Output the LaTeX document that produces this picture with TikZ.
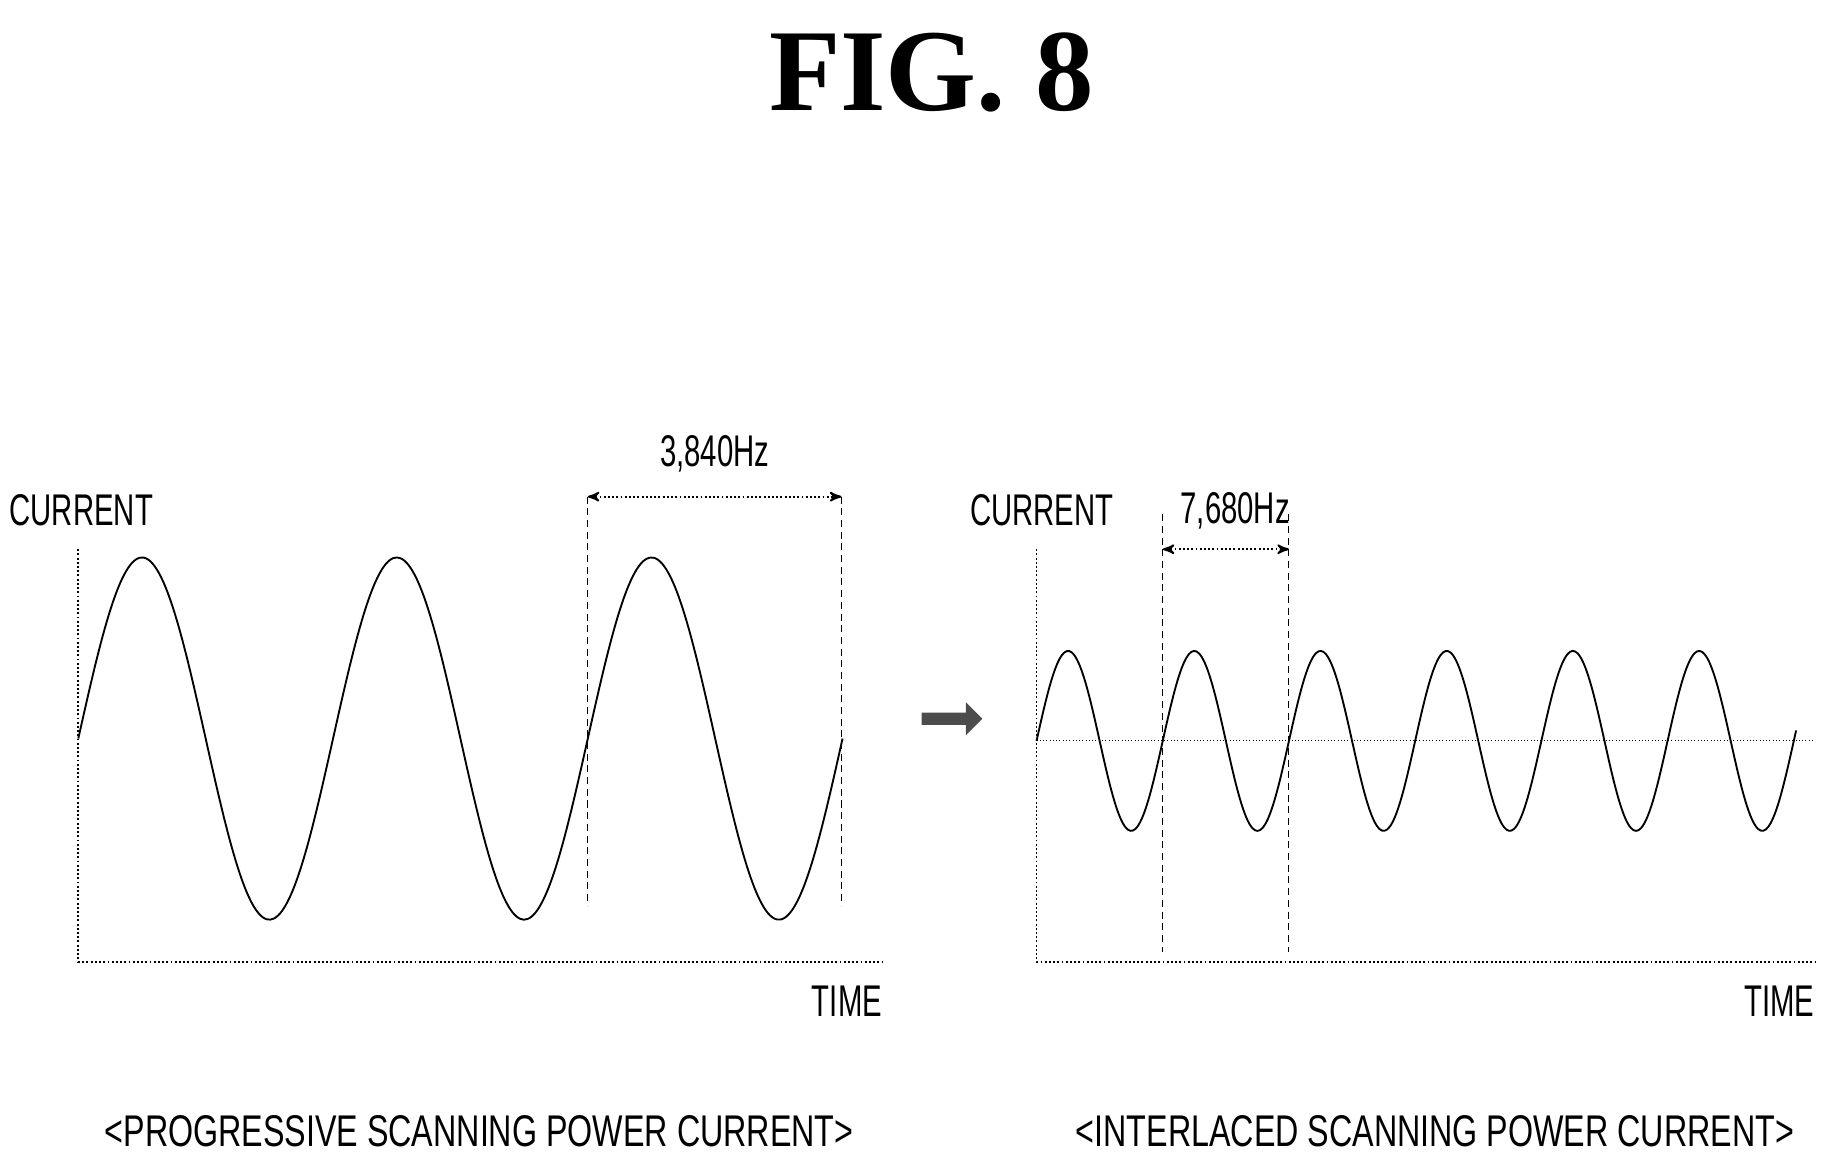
\documentclass[tikz,border=0pt]{standalone}
\usepackage{fontspec}
\setmainfont{Liberation Serif}
\newfontfamily\lblfont{Liberation Sans}
\usetikzlibrary{arrows,positioning,shapes.arrows}

\begin{document}
\begin{tikzpicture}[x=0.5pt,y=-0.5pt,>=stealth',
    lbl/.style={font=\lblfont\fontsize{19}{19}\selectfont,inner sep=0pt,xscale=0.66},
    axis/.style={densely dotted,thick},
    guide/.style={dashed,dash pattern=on 3pt off 2pt},
    wave/.style={thick,smooth}]

  \useasboundingbox (0,0) rectangle (1560,992);

  \node (title) at (797,62) {\fontsize{50}{50}\selectfont\bfseries FIG.\ 8};

  % progressive
  \coordinate (o1) at (67,823);
  \coordinate (t1) at (67,470);
  \coordinate (e1) at (755,823);
  \draw[axis] (t1) -- (o1) -- (e1);
  \draw[wave] plot[domain=0:654,samples=200] ({67+\x},{632-155*sin(\x/218*360)});
  \coordinate (a1) at (503,425);
  \coordinate (b1) at (720,425);
  \draw[guide] (a1) -- (503,775);
  \draw[guide] (b1) -- (720,775);
  \draw[<->,densely dotted,thick] (a1) -- node[lbl,above=10pt] (f1) {3,840Hz} (b1);
  \node[lbl,anchor=west] (c1) at (8,437) {CURRENT};
  \node[lbl,anchor=east] (x1) at (755,857) {TIME};
  \node[lbl,xscale=1.1] (cap1) at (410,968) {<PROGRESSIVE SCANNING POWER CURRENT>};

  \node[single arrow,fill=black!70,inner sep=1pt,minimum height=26pt,minimum width=14pt,
    single arrow head extend=2pt] (arr) at (812,615) {};

  % interlaced
  \coordinate (o2) at (887,823);
  \coordinate (t2) at (887,470);
  \coordinate (e2) at (1553,823);
  \draw[axis] (t2) -- (o2) -- (e2);
  \draw[densely dotted] (887,634) -- (1553,634);
  \draw[wave] plot[domain=0:650,samples=300] ({887+\x},{634-77*sin(\x/108*360)});
  \coordinate (a2) at (995,470);
  \coordinate (b2) at (1103,470);
  \draw[guide] (995,440) -- (995,815);
  \draw[guide] (1103,440) -- (1103,815);
  \draw[<->,densely dotted,thick] (a2) -- (b2);
  \node[lbl] (f2) at (1057,437) {7,680Hz};
  \node[lbl,anchor=west] (c2) at (830,437) {CURRENT};
  \node[lbl,anchor=east] (x2) at (1553,857) {TIME};
  \node[lbl,xscale=1.1] (cap2) at (1228,968) {<INTERLACED SCANNING POWER CURRENT>};

\end{tikzpicture}
\end{document}
